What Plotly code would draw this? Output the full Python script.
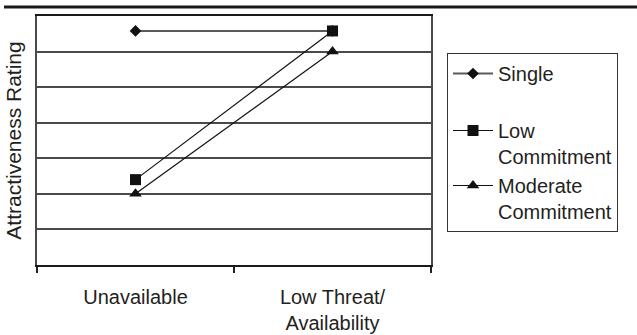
import plotly.graph_objects as go

# Conditions on the x axis
conditions = ["Unavailable", "Low Threat/<br>Availability"]

# Mean attractiveness ratings per partner type
single = [6.58, 6.58]
low_commitment = [2.40, 6.58]
moderate_commitment = [2.00, 6.00]

series_names = ["Single", "Low<br>Commitment", "Moderate<br>Commitment"]

FONT = "Liberation Sans, Arial, sans-serif"
TEXT = "#231f20"

fig = go.Figure()

fig.add_trace(go.Scatter(
    x=conditions, y=single, name=series_names[0], mode="lines+markers",
    line=dict(color="#5a5a5a", width=2),
    marker=dict(symbol="diamond", size=9, color="#111111"),
    legendgroup="a",
))
fig.add_trace(go.Scatter(
    x=conditions, y=low_commitment, name=series_names[1], mode="lines+markers",
    line=dict(color="#111111", width=1.2),
    marker=dict(symbol="square", size=11, color="#111111"),
    legendgroup="b",
))
fig.add_trace(go.Scatter(
    x=conditions, y=moderate_commitment, name=series_names[2], mode="lines+markers",
    line=dict(color="#111111", width=1.2),
    marker=dict(symbol="triangle-up", size=11, color="#111111"),
    legendgroup="b",
))

L, R, T, B = 37, 206, 16, 70
W, H = 637, 335
pw, ph = W - L - R, H - T - B

# Heavy rule across the top of the figure
fig.add_shape(
    type="line", xref="paper", yref="paper",
    x0=(4 - L) / pw, x1=(W - L) / pw,
    y0=1 + (T - 7) / ph, y1=1 + (T - 7) / ph,
    line=dict(color="#1a1a1a", width=3),
)

fig.update_layout(
    width=W, height=H,
    margin=dict(l=L, r=R, t=T, b=B),
    paper_bgcolor="white", plot_bgcolor="white",
    font=dict(family=FONT, size=21, color=TEXT),
    showlegend=True,
    legend=dict(
        x=(447 - L) / pw, xanchor="left",
        y=1 - (53 - T) / ph, yanchor="top",
        bordercolor="#333333", borderwidth=1,
        bgcolor="white",
        valign="top",
        tracegroupgap=28,
        itemwidth=40,
        font=dict(family=FONT, size=20, color=TEXT),
    ),
    xaxis=dict(
        type="category",
        range=[-0.5, 1.5],
        tickson="boundaries",
        ticks="outside", ticklen=6, tickwidth=1.5, tickcolor="#222222",
        showline=True, linecolor="#1a1a1a", linewidth=2, mirror=True,
        showgrid=False, zeroline=False,
        ticklabelstandoff=13,
        tickfont=dict(family=FONT, size=20, color=TEXT),
        automargin=False,
        fixedrange=True,
    ),
    yaxis=dict(
        range=[0, 7], dtick=1, tick0=0,
        showticklabels=False, ticks="",
        showgrid=True, gridcolor="#4a4a4a", gridwidth=1.5,
        showline=True, linecolor="#4a4a4a", linewidth=1.5, mirror=True,
        zeroline=False,
        title=dict(text="Attractiveness Rating", standoff=8,
                   font=dict(family=FONT, size=21, color=TEXT)),
        automargin=False,
        fixedrange=True,
    ),
)

fig.write_html("out.html")
